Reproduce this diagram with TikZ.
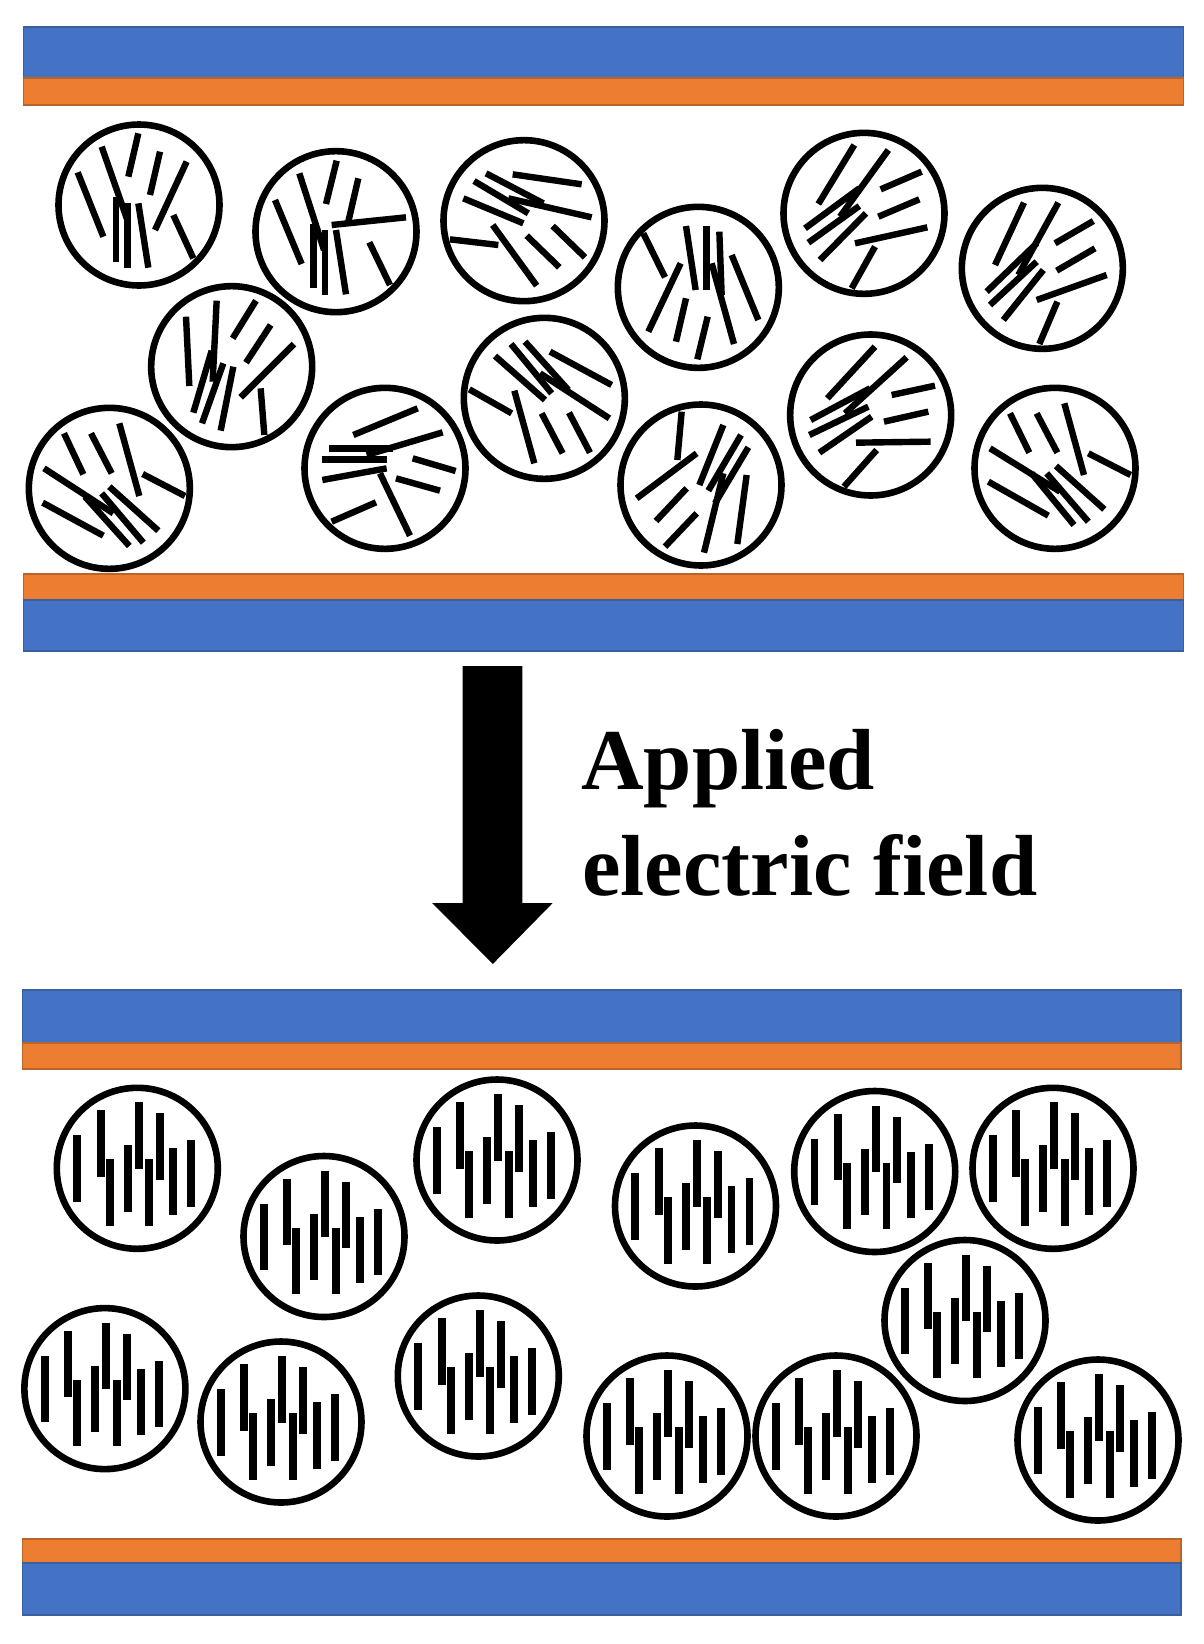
\documentclass[tikz,border=0pt]{standalone}
\usepackage{fontspec}
\setmainfont{Liberation Serif}
\definecolor{plateblue}{HTML}{4472C4}
\definecolor{plateblueedge}{HTML}{3A5F9F}
\definecolor{plateorange}{HTML}{ED7D31}
\definecolor{plateorangeedge}{HTML}{B9652A}
\tikzset{
  ballring/.style={draw=black,line width=6.6pt,fill=white},
  rodtilt/.style={draw=black,line width=6.4pt,line cap=butt},
  rodup/.style={draw=black,line width=7.8pt,line cap=butt},
  blueplate/.style={fill=plateblue,draw=plateblueedge,line width=1.5pt},
  orangeplate/.style={fill=plateorange,draw=plateorangeedge,line width=1.5pt},
  fieldlabel/.style={anchor=base west,inner sep=0pt,font=\fontsize{86.7}{100}\selectfont\bfseries}
}
% #1,#2 origin of the local frame (1/3 px units); #3,#4 centre; #5 rods
\newcommand{\tiltball}[5]{%
  \begin{scope}[shift={(#1,#2)},x=0.33333pt,y=-0.33333pt]
    \draw[ballring] (#3,#4) circle[radius=80.5pt];
    \foreach \xa/\ya/\xb/\yb in {#5} {\draw[rodtilt] (\xa,\ya) -- (\xb,\yb);}
  \end{scope}}
\newcommand{\upball}[2]{%
  \begin{scope}[shift={(#1,#2)}]
    \draw[ballring] (0,0) circle[radius=80.5pt];
    \foreach \dx/\ya in {-60.3/-33,-36.7/-58,-27.7/-9,-9.7/-23,1.3/-66,11.7/-9,22.3/-55,36/-20,54/-28}
      {\draw[rodup] (\dx,\ya) -- ++(0,66.7);}
  \end{scope}}
\begin{document}
\begin{tikzpicture}[x=1pt,y=-1pt]
\useasboundingbox (0,0) rectangle (1203,1644);
% plates
\draw[blueplate] (23.5,27) rectangle (1183.5,78);
\draw[orangeplate] (23.5,78) rectangle (1183.5,105);
\draw[orangeplate] (23.5,574) rectangle (1183.5,600);
\draw[blueplate] (23.5,600) rectangle (1183.5,651);
\draw[blueplate] (22.5,990) rectangle (1181,1043);
\draw[orangeplate] (22.5,1043) rectangle (1181,1069);
\draw[orangeplate] (22.5,1539) rectangle (1181,1563);
\draw[blueplate] (22.5,1563) rectangle (1181,1615);
% disordered balls
\tiltball{20}{110}{357}{285}{173/187/250/380,245/110/322/330,355/70/325/200,420/125/390/255,500/155/405/360,460/315/520/445,288/260/288/455,322/280/322/473,355/280/385/473}
\tiltball{20}{110}{948}{365}{765/270/845/462,838/190/912/420,950/152/918/282,1015/205/985/335,1158/322/935/345,1048/397/1110/525,880/343/880/535,915/360/915/555,948/360/978/553}
\tiltball{20}{110}{635}{770}{498/620/508/828,590/572/578/815,708/572/638/685,752/645/678/758,822/702/662/862,722/835/733/975,575/722/520/908,610/760/546/940,640/770/602/962}
\tiltball{20}{110}{268}{1135}{132/970/190/1093,213/970/275/1090,298/940/358/1158,368/1092/495/1158,72/1075/280/1210,195/1160/328/1308,245/1150/370/1298,268/1130/415/1262,68/1178/250/1277}
\tiltball{290}{370}{285}{295}{190/195/383/115,118/235/310/235,95/268/290/268,230/255/458/187,97/330/290/295,270/310/360/497,125/455/258/397,368/265/497/303,318/325/450/362}
\tiltball{430}{120}{282}{302}{248/163/455/193,168/160/340/250,132/183/295/280,100/235/280/310,235/235/485/292,60/358/205/375,188/315/320/497,290/347/388/442,368/318/465/412}
\tiltball{430}{120}{805}{502}{640/340/705/472,752/430/655/635,768/318/797/510,830/318/830/510,868/335/875/525,905/405/985/600,845/430/912/672,768/535/738/665,833/590/802/718}
\tiltball{430}{120}{343}{835}{195/708/345/840,243/672/365/820,285/665/415/810,360/695/545/795,330/760/538/895,118/808/245/880,253/812/313/1030,335/880/398/1000,417/878/480/998}
\tiltball{430}{120}{813}{1095}{755/875/742/1020,800/1000/620/1135,880/915/808/1095,933/945/835/1112,955/982/855/1150,880/1060/822/1298,950/1065/922/1272,770/1105/678/1203,800/1180/705/1280}
\tiltball{770}{120}{282}{280}{253/75/145/252,355/90/210/290,105/325/268/205,115/368/268/258,150/420/288/280,455/155/332/208,448/238/325/290,472/322/255/370,315/380/245/505}
\tiltball{770}{120}{817}{445}{762/248/675/435,865/248/745/465,650/515/800/370,660/555/800/425,700/600/820/450,970/303/855/370,975/385/860/452,1010/465/800/540,862/545/808/672}
\tiltball{770}{120}{302}{885}{315/680/172/835,410/712/225/880,122/900/300/805,118/945/295/860,148/998/305/890,495/797/365/825,475/875/342/905,482/965/258/968,320/990/222/1100}
\tiltball{770}{120}{855}{1045}{720/880/778/998,800/880/862/998,883/850/942/1065,955/1000/1082/1065,660/985/870/1115,655/1085/835/1187,785/1060/912/1215,830/1060/955/1205,858/1038/1003/1168}
% arrow
\fill[black] (462.5,666) -- (522.3,666) -- (522.3,903) -- (552.7,903) -- (492.8,964) -- (432.2,903) -- (462.5,903) -- cycle;
\node[fieldlabel] (applied) at (581,789.3) {Applied};
\node[fieldlabel] (field) at (582,895) {electric field};
% aligned balls
\upball{137.3}{1168.3}
\upball{324}{1236.5}
\upball{497}{1160}
\upball{695.5}{1206}
\upball{874.7}{1171.5}
\upball{1053}{1168.3}
\upball{965}{1320.5}
\upball{104.9}{1388.6}
\upball{281}{1422}
\upball{478.3}{1376}
\upball{667}{1436}
\upball{836}{1436}
\upball{1098}{1440}
\end{tikzpicture}
\end{document}
